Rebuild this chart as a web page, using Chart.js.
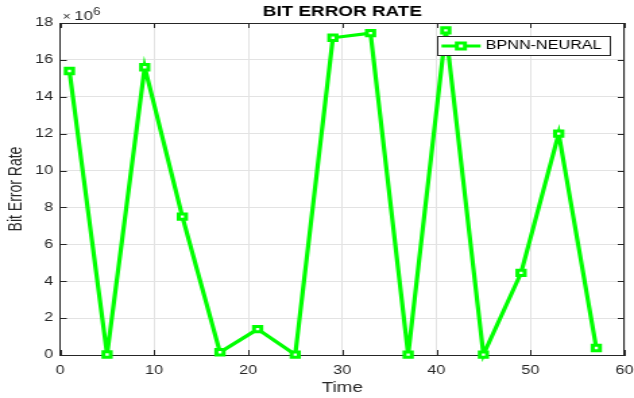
<!DOCTYPE html>
<html>
<head>
<meta charset="utf-8">
<script src="https://cdn.jsdelivr.net/npm/chart.js@4.4.0/dist/chart.umd.min.js"></script>
<style>
  html, body { margin: 0; padding: 0; background: #fff; }
</style>
</head>
<body>
<!-- the source figure is stretched sideways, so draw narrow and widen with css -->
<canvas id="berChart" width="470" height="398" style="display:block;width:634px;height:398px"></canvas>
<script>
const chartTitle = 'BIT ERROR RATE';
const seriesLabel = 'BPNN-NEURAL';
const xLabel = 'Time';
const yLabel = 'Bit Error Rate';

const timeValues = [1, 5, 9, 13, 17, 21, 25, 29, 33, 37, 41, 45, 49, 53, 57];
const berValues = [15.4e6, 0.03e6, 15.6e6, 7.5e6, 0.15e6, 1.4e6, 0.02e6, 17.2e6,
                   17.45e6, 0.02e6, 17.6e6, 0.02e6, 4.45e6, 12.0e6, 0.38e6];

const xTicks = [0, 10, 20, 30, 40, 50, 60];
const yTicks = [0, 2e6, 4e6, 6e6, 8e6, 10e6, 12e6, 14e6, 16e6, 18e6];
const yExponent = 6;

const lineColor = '#00ff00';
const axisColor = '#262626';
const gridColor = '#e3e3e3';
const fontFamily = '"Liberation Sans", Arial, Helvetica, sans-serif';

// box, inward ticks, title, exponent and legend the way matlab draws them
const matlabFrame = {
    id: 'matlabFrame',
    beforeDatasetsDraw(chart) {
        const { ctx, chartArea: a, scales } = chart;
        const tl = 5;
        ctx.save();
        ctx.strokeStyle = axisColor;
        ctx.lineWidth = 1;
        ctx.beginPath();
        ctx.moveTo(a.left, a.top + 0.5);
        ctx.lineTo(a.right, a.top + 0.5);
        ctx.moveTo(a.right - 0.5, a.top);
        ctx.lineTo(a.right - 0.5, a.bottom);
        xTicks.forEach(v => {
            const x = Math.round(scales.x.getPixelForValue(v)) + 0.5;
            ctx.moveTo(x, a.bottom);
            ctx.lineTo(x, a.bottom - tl);
            ctx.moveTo(x, a.top);
            ctx.lineTo(x, a.top + tl);
        });
        yTicks.forEach(v => {
            const y = Math.round(scales.y.getPixelForValue(v)) + 0.5;
            ctx.moveTo(a.left, y);
            ctx.lineTo(a.left + tl, y);
            ctx.moveTo(a.right, y);
            ctx.lineTo(a.right - tl, y);
        });
        ctx.stroke();
        ctx.restore();
    },
    afterDraw(chart) {
        const { ctx, chartArea: a } = chart;
        ctx.save();

        // title
        ctx.fillStyle = '#000';
        ctx.font = 'bold 14px ' + fontFamily;
        ctx.textAlign = 'center';
        ctx.textBaseline = 'middle';
        ctx.fillText(chartTitle, (a.left + a.right) / 2, 12);

        // x10^6
        ctx.fillStyle = axisColor;
        ctx.textAlign = 'left';
        ctx.textBaseline = 'alphabetic';
        ctx.font = '10px ' + fontFamily;
        ctx.fillText('\u00d7', a.left + 2, 20);
        ctx.font = '12.5px ' + fontFamily;
        ctx.fillText('10', a.left + 10.5, 20);
        ctx.font = '10px ' + fontFamily;
        ctx.fillText(String(yExponent), a.left + 24.5, 15);

        // legend
        ctx.font = '12px ' + fontFamily;
        const tw = ctx.measureText(seriesLabel).width;
        const right = a.right - 11;
        const top = a.top + 13;
        const h = 19;
        const left = right - (tw + 36.3 + 6);
        ctx.fillStyle = '#fff';
        ctx.fillRect(left, top, right - left, h);
        ctx.strokeStyle = axisColor;
        ctx.lineWidth = 1;
        ctx.strokeRect(Math.round(left) + 0.5, top + 0.5, Math.round(right - left), h);
        const my = top + h / 2 + 0.5;
        ctx.strokeStyle = lineColor;
        ctx.lineWidth = 3;
        ctx.beginPath();
        ctx.moveTo(left + 3.6, my);
        ctx.lineTo(left + 32.6, my);
        ctx.stroke();
        const mx = left + 18;
        ctx.fillStyle = '#fff';
        ctx.fillRect(mx - 3, my - 3, 6, 6);
        ctx.strokeRect(mx - 3, my - 3, 6, 6);
        ctx.fillStyle = '#000';
        ctx.textBaseline = 'middle';
        ctx.fillText(seriesLabel, left + 36.3, my);

        ctx.restore();
    }
};

const ctx = document.getElementById('berChart').getContext('2d');
const berChart = new Chart(ctx, {
    type: 'line',
    data: {
        datasets: [{
            label: seriesLabel,
            data: timeValues.map((t, i) => ({ x: t, y: berValues[i] })),
            borderColor: lineColor,
            backgroundColor: '#ffffff',
            borderWidth: 3.2,
            pointStyle: 'rect',
            pointRadius: 3.8,
            pointBorderWidth: 3,
            pointBorderColor: lineColor,
            pointBackgroundColor: '#ffffff',
            tension: 0,
            fill: false,
            clip: false
        }]
    },
    options: {
        responsive: false,
        animation: false,
        devicePixelRatio: 1,
        layout: { padding: { left: 0, right: 5.2, top: 23, bottom: 0 } },
        plugins: {
            legend: { display: false },
            title: { display: false },
            tooltip: { enabled: false }
        },
        scales: {
            x: {
                type: 'linear',
                min: 0,
                max: 60,
                afterBuildTicks: s => { s.ticks = xTicks.map(v => ({ value: v })); },
                afterFit: s => { s.height = 43; s.paddingLeft = 0; s.paddingRight = 0; },
                grid: { color: gridColor, lineWidth: 1, drawTicks: false },
                border: { display: true, color: axisColor, width: 1 },
                ticks: {
                    color: axisColor,
                    font: { family: fontFamily, size: 12 },
                    padding: 8,
                    maxRotation: 0
                },
                title: {
                    display: true,
                    text: xLabel,
                    color: axisColor,
                    font: { family: fontFamily, size: 14 },
                    padding: { top: 0, bottom: 1 }
                }
            },
            y: {
                type: 'linear',
                min: 0,
                max: 18e6,
                afterBuildTicks: s => { s.ticks = yTicks.map(v => ({ value: v })); },
                afterFit: s => { s.width = 44.5; s.paddingTop = 0; s.paddingBottom = 0; },
                grid: { color: gridColor, lineWidth: 1, drawTicks: false },
                border: { display: true, color: axisColor, width: 1 },
                ticks: {
                    color: axisColor,
                    font: { family: fontFamily, size: 12 },
                    padding: 5.2,
                    callback: v => String(v / Math.pow(10, yExponent))
                },
                title: {
                    display: true,
                    text: yLabel,
                    color: axisColor,
                    font: { family: fontFamily, size: 14 },
                    padding: { top: 3.3, bottom: 0 }
                }
            }
        }
    },
    plugins: [matlabFrame]
});
</script>
</body>
</html>
